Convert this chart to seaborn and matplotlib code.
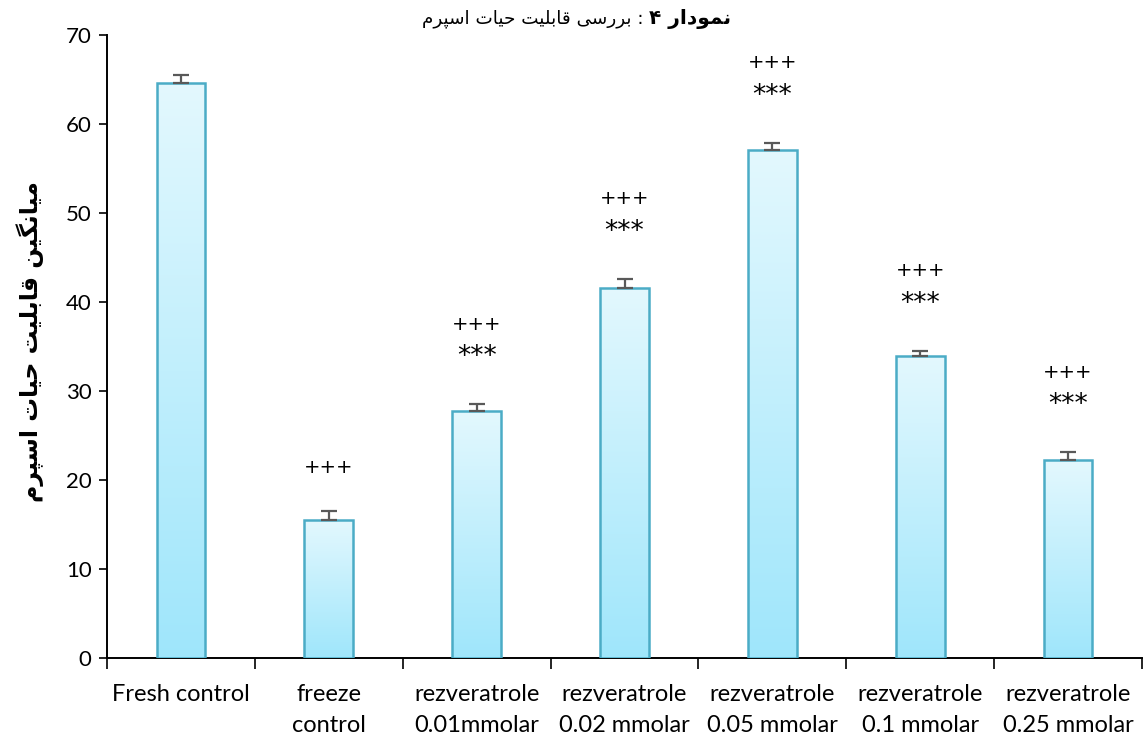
import numpy as np
import pandas as pd
import seaborn as sns
import matplotlib.pyplot as plt
from matplotlib.colors import LinearSegmentedColormap

# ---- data -------------------------------------------------------------
categories = [
    "Fresh control",
    "freeze\ncontrol",
    "rezveratrole\n0.01mmolar",
    "rezveratrole\n0.02 mmolar",
    "rezveratrole\n0.05 mmolar",
    "rezveratrole\n0.1 mmolar",
    "rezveratrole\n0.25 mmolar",
]
viability = [64.6, 15.5, 27.7, 41.6, 57.1, 33.9, 22.2]
errors = [0.9, 1.0, 0.8, 1.0, 0.8, 0.6, 0.9]
plus_marks = ["", "+++", "+++", "+++", "+++", "+++", "+++"]
star_marks = ["", "", "***", "***", "***", "***", "***"]

title_bold = "نمودار ۴"
title_rest = " : بررسی قابلیت حیات اسپرم"
ylabel_text = "میانگین قابلیت حیات اسپرم"

# ---- minimal Arabic-script shaping (matplotlib has no text shaping) ---
# letter: (isolated, final, initial, medial); None = does not join forward
FORMS = {
    "ا": ("\uFE8D", "\uFE8E", None, None),
    "ب": ("\uFE8F", "\uFE90", "\uFE91", "\uFE92"),
    "ت": ("\uFE95", "\uFE96", "\uFE97", "\uFE98"),
    "ح": ("\uFEA1", "\uFEA2", "\uFEA3", "\uFEA4"),
    "د": ("\uFEA9", "\uFEAA", None, None),
    "ر": ("\uFEAD", "\uFEAE", None, None),
    "س": ("\uFEB1", "\uFEB2", "\uFEB3", "\uFEB4"),
    "ق": ("\uFED5", "\uFED6", "\uFED7", "\uFED8"),
    "ل": ("\uFEDD", "\uFEDE", "\uFEDF", "\uFEE0"),
    "م": ("\uFEE1", "\uFEE2", "\uFEE3", "\uFEE4"),
    "ن": ("\uFEE5", "\uFEE6", "\uFEE7", "\uFEE8"),
    "و": ("\uFEED", "\uFEEE", None, None),
    "ی": ("\uFBFC", "\uFBFD", "\uFBFE", "\uFBFF"),
    "پ": ("\uFB56", "\uFB57", "\uFB58", "\uFB59"),
    "گ": ("\uFB92", "\uFB93", "\uFB94", "\uFB95"),
}


def shape_rtl(text):
    chars = list(text)
    out = []
    for i, c in enumerate(chars):
        if c not in FORMS:
            out.append(c)
            continue
        iso, fin, ini, med = FORMS[c]
        prev = chars[i - 1] if i > 0 else None
        nxt = chars[i + 1] if i + 1 < len(chars) else None
        joins_prev = prev in FORMS and FORMS[prev][2] is not None
        joins_next = nxt in FORMS and ini is not None
        if joins_prev and joins_next:
            out.append(med)
        elif joins_prev:
            out.append(fin)
        elif joins_next:
            out.append(ini)
        else:
            out.append(iso)
    return "".join(reversed(out))


# ---- style ------------------------------------------------------------
sns.set_theme(style="ticks")
plt.rcParams["font.family"] = ["Lato", "DejaVu Sans"]
plt.rcParams["text.color"] = "black"
plt.rcParams["xtick.color"] = "black"
plt.rcParams["ytick.color"] = "black"

df = pd.DataFrame({"group": categories, "value": viability})

fig = plt.figure(figsize=(11.43, 7.38), dpi=100)
ax = fig.add_axes([107 / 1143, 1 - 658 / 738, (1142 - 107) / 1143, (658 - 35) / 738])

sns.barplot(data=df, x="group", y="value", ax=ax, errorbar=None,
            width=0.33, color="#b8ecfc", edgecolor="#4bacc6", linewidth=1.8,
            zorder=3)

# vertical gradient fill inside each bar
grad_cmap = LinearSegmentedColormap.from_list("barfill", ["#9fe6fb", "#e3f8fe"])
grad = np.linspace(0, 1, 256).reshape(-1, 1)
for patch in ax.patches:
    x0, y0 = patch.get_x(), patch.get_y()
    w, h = patch.get_width(), patch.get_height()
    img = ax.imshow(grad, cmap=grad_cmap, origin="lower", aspect="auto",
                    extent=[x0, x0 + w, y0, y0 + h], zorder=3.1,
                    interpolation="bicubic")
    img.set_clip_path(patch)
    patch.set_facecolor("none")
    patch.set_zorder(3.2)

xs = np.arange(len(categories))
ax.errorbar(xs, viability, yerr=[np.zeros(len(errors)), errors], fmt="none",
            ecolor="#595959", elinewidth=1.6, capsize=6, capthick=1.6, zorder=4)

# significance markers
for x, v, e, p, s in zip(xs, viability, errors, plus_marks, star_marks):
    if s:
        ax.text(x, v + e + 5.3, s, ha="center", va="center", fontsize=19,
                color="black", family="DejaVu Sans")
        ax.text(x, v + e + 9.0, p, ha="center", va="center", fontsize=14,
                color="black", family="DejaVu Sans")
    elif p:
        ax.text(x, v + e + 4.9, p, ha="center", va="center", fontsize=14,
                color="black", family="DejaVu Sans")

# axes
ax.set_xlim(-0.5, len(categories) - 0.5)
ax.set_ylim(0, 70)
ax.set_yticks(range(0, 71, 10))
ax.tick_params(axis="y", labelsize=16, length=6, width=1.2, color="black",
               pad=5, direction="out")
ax.set_xticks(xs)
ax.set_xticklabels(categories, fontsize=17, va="top", linespacing=1.55)
ax.tick_params(axis="x", which="major", length=0, pad=19)
ax.set_xticks(np.arange(-0.5, len(categories)), minor=True)
ax.tick_params(axis="x", which="minor", length=8, width=1.2, color="black",
               direction="out")
ax.set_xlabel("")
ax.set_ylabel("")
sns.despine(ax=ax)
for side in ("left", "bottom"):
    ax.spines[side].set_color("black")
    ax.spines[side].set_linewidth(1.4)
ax.grid(False)

# y-axis label (Persian, bold)
fig.text(30 / 1143, 1 - 342 / 738, shape_rtl(ylabel_text), rotation=90,
         ha="center", va="center", fontsize=17, fontweight="bold",
         family="DejaVu Sans")

# title: bold part on the right, regular part to its left
split_x = 649 / 1143
fig.text(split_x, 1 - 19 / 738, shape_rtl(title_rest), ha="right",
         va="center", fontsize=13.2, family="DejaVu Sans")
fig.text(split_x, 1 - 19 / 738, shape_rtl(title_bold), ha="left",
         va="center", fontsize=14.5, fontweight="bold", family="DejaVu Sans")

fig.savefig("out.png", dpi=100)
